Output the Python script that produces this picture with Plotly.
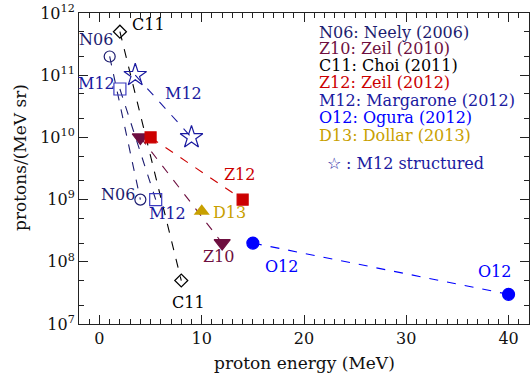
import plotly.graph_objects as go

# ---- data ----
n06_energy = [1, 4]
n06_protons = [2e11, 1e9]
m12_energy = [2, 5.5]
m12_protons = [6e10, 1e9]
c11_energy = [2, 8]
c11_protons = [5e11, 5e7]
m12s_energy = [3.5, 9]
m12s_protons = [1e11, 1e10]
z10_energy = [4, 12]
z10_protons = [1e10, 2e8]
z12_energy = [5, 14]
z12_protons = [1e10, 1e9]
d13_energy = [10]
d13_protons = [6.5e8]
o12_energy = [15, 40]
o12_protons = [2e8, 3e7]

x_ticks = [0, 10, 20, 30, 40]
y_ticks = [1e7, 1e8, 1e9, 1e10, 1e11, 1e12]
y_ticktext = ["10<sup>7</sup>", "10<sup>8</sup>", "10<sup>9</sup>", "10<sup>10</sup>",
              "10<sup>11</sup>", "10<sup>12</sup>"]

legend_lines = [
    ("N06: Neely (2006)", "#1c1c70"),
    ("Z10: Zeil (2010)", "#6e0f40"),
    ("C11: Choi (2011)", "#000000"),
    ("Z12: Zeil (2012)", "#cc0000"),
    ("M12: Margarone (2012)", "#1a1aa0"),
    ("O12: Ogura (2012)", "#0000ff"),
    ("D13: Dollar (2013)", "#c8a000"),
]

FONT = "DejaVu Serif"
C_N06 = "#1c1c70"
C_Z10 = "#6e0f40"
C_C11 = "#000000"
C_Z12 = "#cc0000"
C_M12 = "#1a1aa0"
C_M12SQ = "#3a3ac0"
C_O12 = "#0000ff"
C_D13 = "#c8a000"

L, R, T, B = 79, 529, 13, 324
PW, PH = R - L, B - T

def px(x):
    return (x - L) / PW

def py(y):
    return 1 - (y - T) / PH

fig = go.Figure()

def add_series(xs, ys, color, symbol, size, line_color=None, mline=1.2):
    fig.add_trace(go.Scatter(
        x=xs, y=ys, mode="lines+markers",
        line=dict(color=line_color or color, width=1.1, dash="dash"),
        marker=dict(symbol=symbol, size=size, color=color,
                    line=dict(color=color, width=mline)),
        showlegend=False, hoverinfo="skip"))

add_series(c11_energy, c11_protons, C_C11, "diamond-open", 10)
add_series(n06_energy, n06_protons, C_N06, "circle-open", 11)
add_series(m12_energy, m12_protons, C_M12SQ, "square-open", 12, line_color=C_N06)
add_series(m12s_energy, m12s_protons, C_M12, "star-open", 17)
add_series(z10_energy, z10_protons, C_Z10, "triangle-down", 14)
add_series(z12_energy, z12_protons, C_Z12, "square", 11)
add_series(o12_energy, o12_protons, C_O12, "circle", 12)
fig.add_trace(go.Scatter(x=d13_energy, y=d13_protons, mode="markers",
                         marker=dict(symbol="triangle-up", size=14, color=C_D13),
                         showlegend=False, hoverinfo="skip"))

# point labels (data coordinates, log10 for y)
labels = [
    ("N06", -0.3, 11.57, C_N06),
    ("C11", 4.8, 11.81, C_C11),
    ("M12", -0.3, 10.87, C_M12),
    ("M12", 8.2, 10.70, C_M12),
    ("Z12", 13.7, 9.41, C_Z12),
    ("N06", 1.8, 9.09, C_N06),
    ("M12", 6.7, 8.78, C_M12),
    ("D13", 12.7, 8.80, C_D13),
    ("Z10", 11.6, 8.08, C_Z10),
    ("C11", 8.7, 7.35, C_C11),
    ("O12", 17.8, 7.92, C_O12),
    ("O12", 38.6, 7.85, C_O12),
]
for txt, lx, ly, col in labels:
    fig.add_annotation(x=lx, y=ly, xref="x", yref="y", text=txt, showarrow=False,
                       font=dict(family=FONT, size=16, color=col))

# legend block
leg_y = [32, 49, 66, 82, 100, 117, 135]
for (txt, col), yy in zip(legend_lines, leg_y):
    fig.add_annotation(x=px(317), y=py(yy), xref="paper", yref="paper", text=txt,
                       showarrow=False, xanchor="left", yanchor="middle",
                       font=dict(family=FONT, size=16, color=col))
fig.add_annotation(x=px(325), y=py(163), xref="paper", yref="paper",
                   text="\u2606 : M12 structured", showarrow=False,
                   xanchor="left", yanchor="middle",
                   font=dict(family=FONT, size=16, color=C_M12))

# axis titles
fig.add_annotation(x=px(20), y=py(157), xref="paper", yref="paper",
                   text="protons/(MeV sr)", textangle=-90, showarrow=False,
                   xanchor="center", yanchor="middle",
                   font=dict(family=FONT, size=17, color="#111"))
fig.add_annotation(x=px(304), y=py(363), xref="paper", yref="paper",
                   xanchor="center", yanchor="middle",
                   text="proton energy (MeV)", showarrow=False,
                   font=dict(family=FONT, size=17, color="#111"))

axis_common = dict(showgrid=False, zeroline=False, showline=True, linecolor="#222",
                   linewidth=1, mirror="ticks", ticks="inside", tickcolor="#222",
                   automargin=False,
                   tickfont=dict(family=FONT, size=16, color="#111"))
fig.update_xaxes(range=[-2, 42], tickvals=x_ticks, ticklen=9,
                 minor=dict(dtick=1, ticks="inside", ticklen=5, tickcolor="#222"),
                 **axis_common)
fig.update_yaxes(type="log", range=[7, 12], tickvals=y_ticks, ticktext=y_ticktext,
                 ticklen=9,
                 minor=dict(ticks="inside", ticklen=5, tickcolor="#222",
                            showgrid=False),
                 **axis_common)

fig.update_layout(width=530, height=376, autosize=False,
                  margin=dict(l=L, r=530 - R, t=T, b=376 - B, pad=0),
                  plot_bgcolor="white", paper_bgcolor="white",
                  font=dict(family=FONT))

fig.write_html("out.html", config={"displayModeBar": False},
               post_script="document.body.style.margin='0';document.body.style.overflow='hidden';")
